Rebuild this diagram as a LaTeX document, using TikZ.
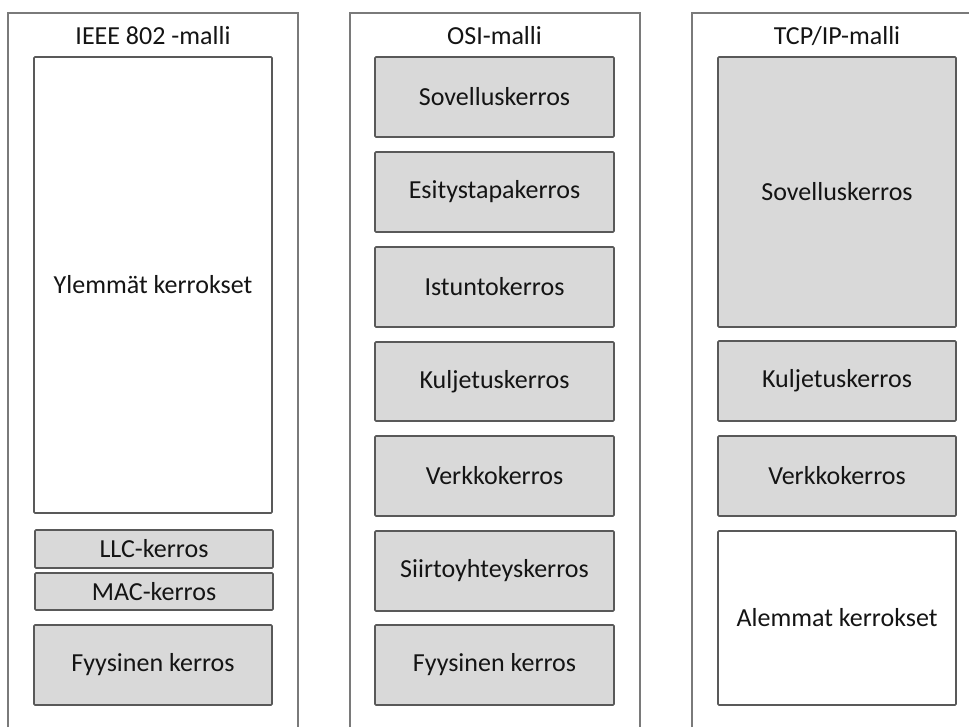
\documentclass[tikz,border=0pt]{standalone}
\usepackage{fontspec}
\setmainfont{Carlito}
\definecolor{framegray}{HTML}{7A7A7A}
\definecolor{edgegray}{HTML}{595959}
\definecolor{layerfill}{HTML}{D9D9D9}
\tikzset{
  frame/.style={draw=framegray, line width=1.3pt},
  layerbox/.style={draw=edgegray, line width=1.2pt, rounded corners=0.8pt,
    inner sep=0pt, font=\fontsize{19.5}{22}\selectfont, text=black!92},
  grayfill/.style={fill=layerfill},
  whitefill/.style={fill=white},
  heading/.style={inner sep=0pt, font=\fontsize{19.5}{22}\selectfont, text=black!92},
}
% \layer{name}{style}{x1}{y1}{x2}{y2}{text}, coordinates in pixels
\newcommand{\layer}[7]{%
  \node[layerbox, #2, minimum width={(#5-#3)*0.75pt}, minimum height={(#6-#4)*0.75pt}]
    (#1) at ({(#3+#5)/2},{(#4+#6)/2}) {#7};}
\begin{document}
\begin{tikzpicture}[x=0.75pt, y=-0.75pt]
\useasboundingbox (0,0) rectangle (969,727);
\fill[white] (0,0) rectangle (969,727);

% column frames (open at the bottom of the page)
\coordinate (fa1) at (8,727);   \coordinate (fa2) at (8,13);
\coordinate (fa3) at (298,13);  \coordinate (fa4) at (298,727);
\coordinate (fb1) at (350,727); \coordinate (fb2) at (350,13);
\coordinate (fb3) at (640,13);  \coordinate (fb4) at (640,727);
\coordinate (fc1) at (692,727); \coordinate (fc2) at (692,13);
\coordinate (fc3) at (969,13);
\draw[frame] (fa1) -- (fa2) -- (fa3) -- (fa4);
\draw[frame] (fb1) -- (fb2) -- (fb3) -- (fb4);
\draw[frame] (fc1) -- (fc2) -- (fc3);

% IEEE 802
\node[heading] (tA) at (153,36) {IEEE 802 -malli};
\layer{ylem}{whitefill}{34}{57}{272}{513}{Ylemmät kerrokset}
\layer{llc}{grayfill}{35}{530}{273}{568}{LLC-kerros}
\layer{mac}{grayfill}{35}{573}{273}{610}{MAC-kerros}
\layer{fyA}{grayfill}{34}{625}{272}{705}{Fyysinen kerros}

% OSI
\node[heading] (tB) at (494.5,36) {OSI-malli};
\layer{sovB}{grayfill}{375}{57}{614}{137}{Sovelluskerros}
\layer{esi}{grayfill}{375}{152}{614}{232}{Esitystapakerros}
\layer{ist}{grayfill}{375}{247}{614}{327}{Istuntokerros}
\layer{kulB}{grayfill}{375}{342}{614}{421}{Kuljetuskerros}
\layer{verB}{grayfill}{375}{436}{614}{516}{Verkkokerros}
\layer{sii}{grayfill}{375}{531}{614}{611}{Siirtoyhteyskerros}
\layer{fyB}{grayfill}{375}{625}{614}{705}{Fyysinen kerros}

% TCP/IP
\node[heading] (tC) at (837,36) {TCP/IP-malli};
\layer{sovC}{grayfill}{718}{57}{956}{327}{Sovelluskerros}
\layer{kulC}{grayfill}{718}{341}{956}{421}{Kuljetuskerros}
\layer{verC}{grayfill}{718}{436}{956}{516}{Verkkokerros}
\layer{ale}{whitefill}{718}{531}{956}{705}{Alemmat kerrokset}
\end{tikzpicture}
\end{document}
